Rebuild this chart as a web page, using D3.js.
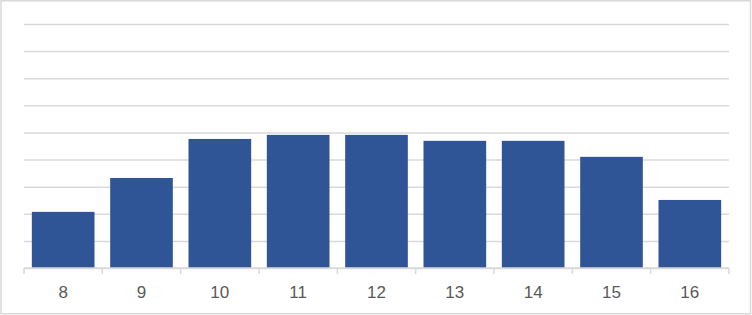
<!doctype html>
<html>
<head>
<meta charset="utf-8">
<title>chart</title>
<script src="https://cdn.jsdelivr.net/npm/d3@7"></script>
<style>
  body { margin: 0; background: #fff; }
  svg { display: block; }
</style>
</head>
<body>
<div id="chart"></div>
<script>
// categories on the x axis
var categories = ["8", "9", "10", "11", "12", "13", "14", "15", "16"];
// bar values (no y labels in the source, one gridline per unit)
var values = [2.07, 3.32, 4.76, 4.91, 4.91, 4.69, 4.69, 4.10, 2.51];
var yMax = 9;

var width = 752, height = 315;
var plotLeft = 24, plotRight = 729, plotTop = 24, plotBottom = 268;

var svg = d3.select("#chart").append("svg")
    .attr("width", width)
    .attr("height", height);

// chart frame
svg.append("rect")
    .attr("x", 1)
    .attr("y", 0.75)
    .attr("width", 749.5)
    .attr("height", 313)
    .style("fill", "#fff")
    .style("stroke", "#d9d9d9")
    .style("stroke-width", 1.5);

var x = d3.scaleBand()
    .domain(categories)
    .range([plotLeft, plotRight])
    .paddingInner(0.2)
    .paddingOuter(0.1);

var y = d3.scaleLinear()
    .domain([0, yMax])
    .range([plotBottom, plotTop]);

// horizontal gridlines
var grid = svg.append("g")
    .attr("transform", "translate(" + plotLeft + ",0)")
    .call(d3.axisLeft(y).ticks(yMax).tickSize(-(plotRight - plotLeft)).tickFormat(""));
grid.select(".domain").remove();
grid.selectAll("line")
    .style("stroke", "#d9d9d9")
    .style("stroke-width", 1.5);

// bars
svg.selectAll(".bar")
    .data(values)
  .enter().append("rect")
    .attr("class", "bar")
    .attr("x", function(d, i) { return x(categories[i]); })
    .attr("y", function(d) { return y(d); })
    .attr("width", x.bandwidth())
    .attr("height", function(d) { return plotBottom - y(d); })
    .style("fill", "#2f5597");

// x axis line with ticks at category boundaries
var xb = svg.append("g");
xb.append("line")
    .attr("x1", plotLeft).attr("x2", plotRight)
    .attr("y1", plotBottom).attr("y2", plotBottom)
    .style("stroke", "#d9d9d9")
    .style("stroke-width", 1.5);

var bounds = categories.map(function(c) { return x(c) - x.step() * x.paddingInner() / 2; });
bounds.push(plotRight);
xb.selectAll(".tk")
    .data(bounds)
  .enter().append("line")
    .attr("class", "tk")
    .attr("x1", function(d) { return d; })
    .attr("x2", function(d) { return d; })
    .attr("y1", plotBottom)
    .attr("y2", plotBottom + 6)
    .style("stroke", "#d9d9d9")
    .style("stroke-width", 1.5);

xb.selectAll(".lbl")
    .data(categories)
  .enter().append("text")
    .attr("class", "lbl")
    .attr("x", function(d) { return x(d) + x.bandwidth() / 2; })
    .attr("y", 298)
    .attr("text-anchor", "middle")
    .style("font-family", "'Liberation Sans', Arial, sans-serif")
    .style("font-size", "17px")
    .style("fill", "#595959")
    .text(function(d) { return d; });
</script>
</body>
</html>
